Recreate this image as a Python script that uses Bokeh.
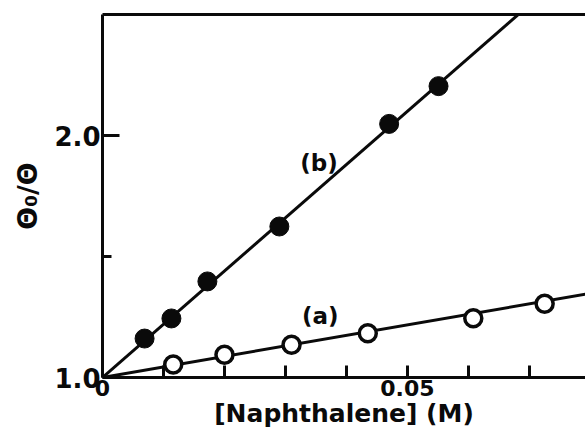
from bokeh.plotting import figure
from bokeh.models import Range1d, FixedTicker, LinearAxis, Label
from bokeh.embed import file_html
from bokeh.resources import INLINE

# ---- data ----
conc_a = [0.0116, 0.0200, 0.0310, 0.0435, 0.0608, 0.0725]
ratio_a = [1.054, 1.094, 1.135, 1.183, 1.245, 1.305]
conc_b = [0.0069, 0.0113, 0.0172, 0.0290, 0.0470, 0.0551]
ratio_b = [1.161, 1.244, 1.397, 1.624, 2.048, 2.204]
slope_a = 4.35
slope_b = 22.0
fit_x = [0.0, 0.08]
fit_a = [1.0 + slope_a * x for x in fit_x]
fit_b = [1.0 + slope_b * x for x in fit_x]

x_ticks = [0.0, 0.05]
x_tick_labels = {0.0: "0", 0.05: "0.05"}
x_minor = [0.01, 0.02, 0.03, 0.04, 0.06, 0.07]
y_ticks = [1.0, 2.0]
y_tick_labels = {1.0: "1.0", 2.0: "2.0"}
y_minor = [1.5]

FONT = "DejaVu Sans"
INK = "#0a0a0a"

p = figure(width=585, height=432, output_backend="svg", toolbar_location=None,
           x_range=Range1d(0, 0.0792), y_range=Range1d(1.0, 2.5),
           min_border_left=102, min_border_right=0, min_border_top=14,
           min_border_bottom=55, x_axis_location=None, y_axis_location=None)
p.outline_line_color = None
p.grid.visible = False
p.background_fill_color = "white"
p.border_fill_color = "white"

xa = LinearAxis(ticker=FixedTicker(ticks=x_ticks, minor_ticks=x_minor))
xa.major_label_overrides = x_tick_labels
xa.axis_line_width = 3
xa.axis_line_color = INK
xa.major_tick_in = 12
xa.major_tick_out = 0
xa.minor_tick_in = 12
xa.minor_tick_out = 0
xa.major_tick_line_width = 3
xa.minor_tick_line_width = 3
xa.major_tick_line_color = INK
xa.minor_tick_line_color = INK
xa.major_label_text_font = FONT
xa.major_label_text_font_style = "bold"
xa.major_label_text_font_size = "22px"
xa.major_label_text_color = INK
xa.major_label_standoff = 2
xa.axis_label = "[Naphthalene] (M)"
xa.axis_label_text_font = FONT
xa.axis_label_text_font_style = "bold"
xa.axis_label_text_font_size = "25px"
xa.axis_label_text_color = INK
xa.axis_label_standoff = 0
p.add_layout(xa, "below")

ya = LinearAxis(ticker=FixedTicker(ticks=y_ticks, minor_ticks=y_minor))
ya.major_label_overrides = y_tick_labels
ya.axis_line_width = 3
ya.axis_line_color = INK
ya.major_tick_in = 17
ya.major_tick_out = 0
ya.minor_tick_in = 9
ya.minor_tick_out = 0
ya.major_tick_line_width = 3
ya.minor_tick_line_width = 3
ya.major_tick_line_color = INK
ya.minor_tick_line_color = INK
ya.major_label_text_font = FONT
ya.major_label_text_font_style = "bold"
ya.major_label_text_font_size = "26px"
ya.major_label_text_color = INK
ya.major_label_standoff = 2
ya.axis_label = "Θ₀/Θ"
ya.axis_label_text_font = FONT
ya.axis_label_text_font_style = "bold"
ya.axis_label_text_font_size = "27px"
ya.axis_label_text_color = INK
ya.axis_label_standoff = 8
p.add_layout(ya, "left")

top = LinearAxis(ticker=FixedTicker(ticks=[]))
top.axis_line_width = 3
top.axis_line_color = INK
top.major_label_text_font_size = "0px"
top.major_tick_in = 0
top.major_tick_out = 0
top.minor_tick_in = 0
top.minor_tick_out = 0
p.add_layout(top, "above")

p.line(fit_x, fit_b, line_width=3, line_color=INK)
p.line(fit_x, fit_a, line_width=3, line_color=INK)
p.scatter(conc_b, ratio_b, size=19, marker="circle", fill_color=INK, line_color=INK)
p.scatter(conc_a, ratio_a, size=17, marker="circle", fill_color="white",
          line_color=INK, line_width=3.5)

for txt, x, y in [("(b)", 0.0355, 1.888), ("(a)", 0.0357, 1.256)]:
    p.add_layout(Label(x=x, y=y, text=txt, text_font=FONT, text_font_style="bold",
                       text_font_size="23px", text_align="center",
                       text_baseline="middle", text_color=INK))

open("out.html", "w").write(file_html(p, INLINE))
